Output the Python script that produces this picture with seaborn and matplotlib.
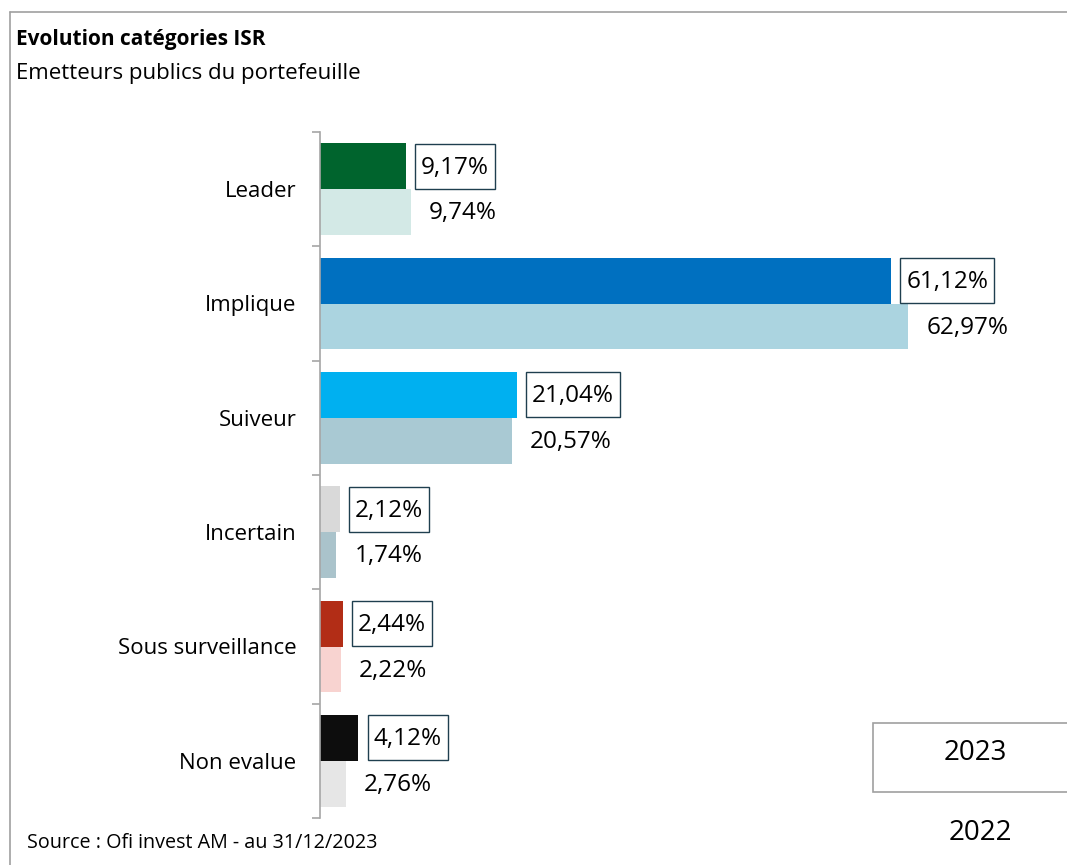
import matplotlib
matplotlib.use("Agg")
import matplotlib.pyplot as plt
from matplotlib.patches import Rectangle
from matplotlib.lines import Line2D
from matplotlib.transforms import IdentityTransform
import seaborn as sns
import pandas as pd

# Data
categories = ["Leader", "Implique", "Suiveur", "Incertain", "Sous surveillance", "Non evalue"]
values_2023 = [9.17, 61.12, 21.04, 2.12, 2.44, 4.12]
values_2022 = [9.74, 62.97, 20.57, 1.74, 2.22, 2.76]
years = ["2023", "2022"]

colors_2023 = ["#00642D", "#0070C0", "#00B0F0", "#D9D9D9", "#B22D16", "#0D0D0D"]
colors_2022 = ["#D3E9E6", "#ABD4E0", "#A9C9D3", "#AAC3CB", "#F8D3D0", "#E6E6E6"]

df = pd.DataFrame({
    "categorie": categories * 2,
    "valeur": values_2023 + values_2022,
    "annee": [years[0]] * len(categories) + [years[1]] * len(categories),
})

sns.set_style("white")
plt.rcParams["font.family"] = ["Open Sans", "DejaVu Sans"]
plt.rcParams["text.color"] = "black"
plt.rcParams["ytick.color"] = "black"

fig = plt.figure(figsize=(10.67, 8.65), dpi=100)
ax = fig.add_axes([320 / 1067, 1 - 818 / 865, 720 / 1067, (818 - 132) / 865])

sns.barplot(data=df, y="categorie", x="valeur", hue="annee", order=categories,
            hue_order=years, orient="h", width=0.8, ax=ax, legend=False,
            palette=["#000000", "#000000"])

# Recolour each bar by category
n = len(categories)
bars = ax.patches[:2 * n]
for i, p in enumerate(bars):
    idx = i % n
    p.set_facecolor(colors_2023[idx] if i < n else colors_2022[idx])
    p.set_edgecolor("none")

ax.set_xlim(0, 720 / 9.34)
ax.set_ylim(n - 0.5, -0.5)
ax.set_xlabel("")
ax.set_ylabel("")
ax.set_xticks([])

for s in ["top", "right", "bottom"]:
    ax.spines[s].set_visible(False)
ax.spines["left"].set_color("#A6A6A6")
ax.spines["left"].set_linewidth(1.2)

ax.set_yticks(range(n))
ax.set_yticklabels(categories, fontsize=16, color="black")
ax.tick_params(axis="y", which="major", left=True, length=0, pad=17, labelcolor="black")
ax.set_yticks([i - 0.5 for i in range(n + 1)], minor=True)
ax.tick_params(axis="y", which="minor", left=True, length=6, width=1.2,
               color="#A6A6A6", direction="out")

def fmt(v):
    return f"{v:.2f}".replace(".", ",") + "%"

# Value labels
boxed = []
for i, p in enumerate(bars):
    v = p.get_width()
    y = p.get_y() + p.get_height() / 2
    t = ax.annotate(fmt(v), (v, y), xytext=(11 if i < n else 13, -1),
                    textcoords="offset points", ha="left", va="center",
                    fontsize=17.5, color="black", zorder=6)
    if i < n:
        boxed.append((t, y))

# Frames around the 2023 labels, sized from the rendered text
fig.canvas.draw()
for t, y in boxed:
    ext = t.get_window_extent()
    yc = ax.transData.transform((0, y))[1]
    rect = Rectangle((ext.x0 - 6, yc - 22.5), ext.width + 12, 45,
                     transform=IdentityTransform(), fc="white", ec="#1F3F4F",
                     lw=1, zorder=4, clip_on=False)
    ax.add_artist(rect)

# Titles
fig.text(16 / 1067, 1 - 40 / 865, "Evolution catégories ISR", fontsize=15,
         fontweight="bold", ha="left", va="center")
fig.text(16 / 1067, 1 - 73 / 865, "Emetteurs publics du portefeuille", fontsize=16,
         ha="left", va="center")
fig.text(27 / 1067, 1 - 843 / 865, "Source : Ofi invest AM - au 31/12/2023", fontsize=14.2,
         ha="left", va="center")

# Outer frame (top and left edges)
fig.add_artist(Line2D([10 / 1067, 10 / 1067], [0, 1 - 12 / 865], transform=fig.transFigure,
                      color="#A0A0A0", lw=1.2))
fig.add_artist(Line2D([10 / 1067, 1], [1 - 12 / 865, 1 - 12 / 865], transform=fig.transFigure,
                      color="#A0A0A0", lw=1.2))

# Year legend
fig.add_artist(Rectangle((873 / 1067, 1 - 792 / 865), 200 / 1067, 69 / 865,
                         transform=fig.transFigure, fc="white", ec="#A0A0A0", lw=1.2))
fig.text(975 / 1067, 1 - 753 / 865, years[0], fontsize=20, ha="center", va="center")
fig.text(980 / 1067, 1 - 833 / 865, years[1], fontsize=20, ha="center", va="center")

fig.savefig("out.png", dpi=100)
